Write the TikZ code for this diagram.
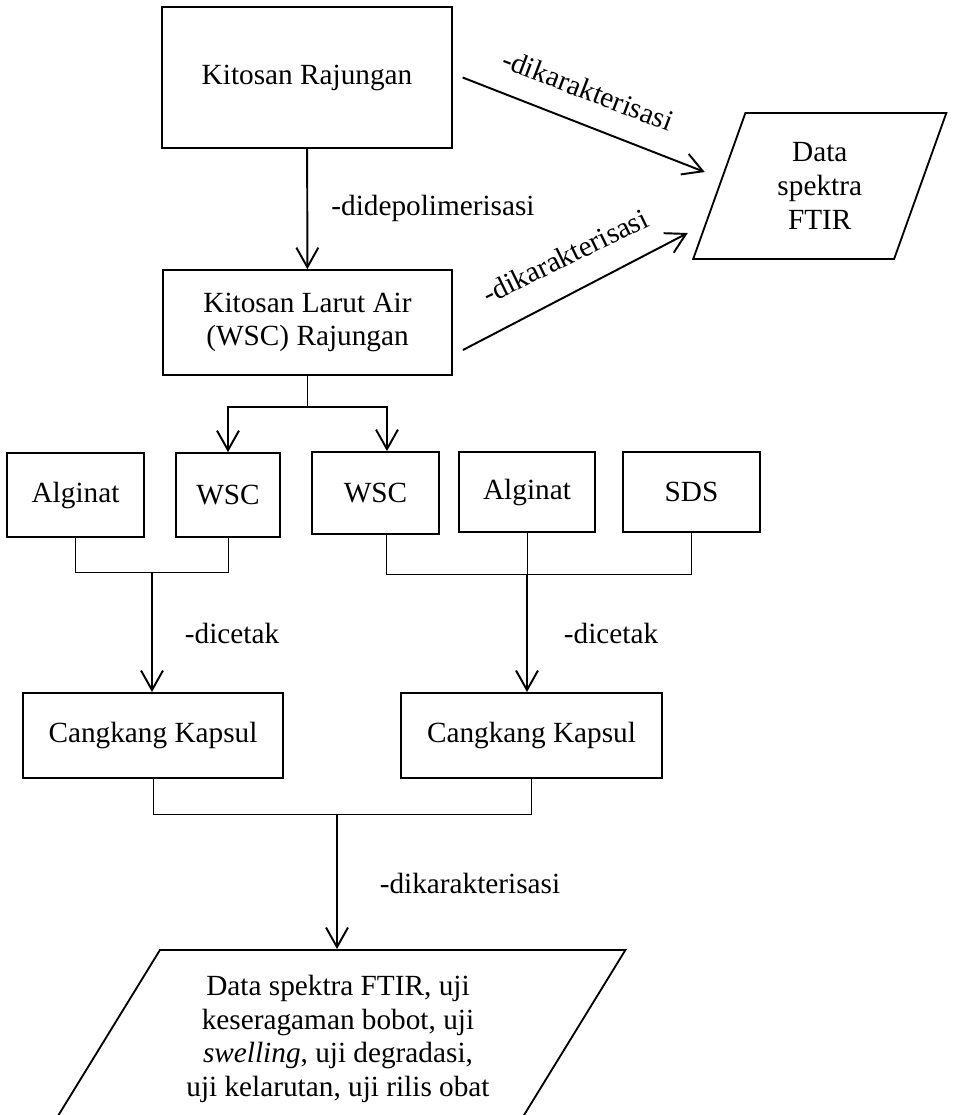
\documentclass[tikz,border=0pt]{standalone}
\usepackage{fontspec}
\setmainfont{Liberation Serif}
\usetikzlibrary{shapes.geometric,arrows.meta}
\tikzstyle{box}=[rectangle,draw=black,line width=0.75pt,align=center,inner sep=2pt]
\tikzstyle{iobox}=[trapezium,trapezium stretches=true,draw=black,line width=0.75pt,align=center,inner sep=2pt]
\tikzstyle{link}=[line width=0.4pt]
\tikzstyle{flow}=[->,line width=0.8pt]

\begin{document}
\begin{tikzpicture}[x=0.41pt,y=-0.41pt,>={Straight Barb[length=8pt,width=9pt]},every node/.style={font=\fontsize{12pt}{13.8pt}\selectfont}]
			\useasboundingbox (0,0) rectangle (953,1115);
			\node (krj) at (307,77.5) [box,minimum width=118.9pt,minimum height=57.8pt] {Kitosan Rajungan};
			\node (wsc) at (307.5,322.5) [box,minimum width=118.5pt,minimum height=43pt] {Kitosan Larut Air\\(WSC) Rajungan};
			\node (ftir) at (819.75,186) [iobox,trapezium left angle=71,trapezium right angle=109,minimum width=104.5pt,minimum height=59.9pt] {Data\\spektra\\FTIR};
			
			\node (alg1) at (75.5,495) [box,minimum width=56.2pt,minimum height=34.4pt] {Alginat};
			\node (wsc1) at (228,495) [box,minimum width=42.6pt,minimum height=34.4pt] {WSC};
			\node (wsc2) at (375.5,493) [box,minimum width=52.1pt,minimum height=33.6pt] {WSC};
			\node (alg2) at (527,492) [box,minimum width=55.8pt,minimum height=32.8pt] {Alginat};
			\node (sds) at (691.5,492) [box,minimum width=56.2pt,minimum height=32.8pt] {SDS};
			
			\node (ck1) at (153,735.5) [box,minimum width=106.6pt,minimum height=34.9pt] {Cangkang Kapsul};
			\node (ck2) at (531.5,735.5) [box,minimum width=107pt,minimum height=34.9pt] {Cangkang Kapsul};
			
			\node (hasil) at (338,1039) [iobox,trapezium left angle=55,trapezium right angle=125,minimum width=236pt,minimum height=73pt] {Data spektra FTIR, uji\\keseragaman bobot, uji\\\textit{swelling}, uji degradasi,\\uji kelarutan, uji rilis obat};
			
			\node (didep) at (433,208) {-didepolimerisasi};
			\node (kar1) at (588,90) [rotate=-21,inner sep=0pt] {-dikarakterisasi};
			\node (kar2) at (565,256) [rotate=26,inner sep=0pt] {-dikarakterisasi};
			\node (cetak1) at (232,633) {-dicetak};
			\node (cetak2) at (611,633) {-dicetak};
			\node (kar3) at (470,883) {-dikarakterisasi};
			
			\coordinate (split) at (307.5,407);
			\coordinate (mixl) at (152,572);
			\coordinate (mixr) at (527,574);
			\coordinate (mixc) at (337,814);
			
			\draw [flow] (krj) -- (wsc);
			\draw [flow] ([xshift=4pt]krj.east) -- ([shift={(-115,-14)}]ftir.center);
			\draw [flow] ([shift={(10,27.5)}]wsc.east) -- ([shift={(-132,47)}]ftir.center);
			
			\draw [link] (wsc) -- (split);
			\draw [flow] (split) -| (wsc1);
			\draw [flow] (split) -| ([xshift=4.7pt]wsc2.north);
			
			\draw [link] (alg1) |- (mixl);
			\draw [link] (wsc1) |- (mixl);
			\draw [flow] (mixl) -- (mixl |- ck1.north);
			
			\draw [link] ([xshift=4.7pt]wsc2.south) |- (mixr);
			\draw [link] (alg2) -- (mixr);
			\draw [link] (sds) |- (mixr);
			\draw [flow] (mixr) -- (mixr |- ck2.north);
			
			\draw [link] (ck1) |- (mixc);
			\draw [link] (ck2) |- (mixc);
			\draw [flow] (mixc) -- (mixc |- hasil.north);
		\end{tikzpicture}
\end{document}
